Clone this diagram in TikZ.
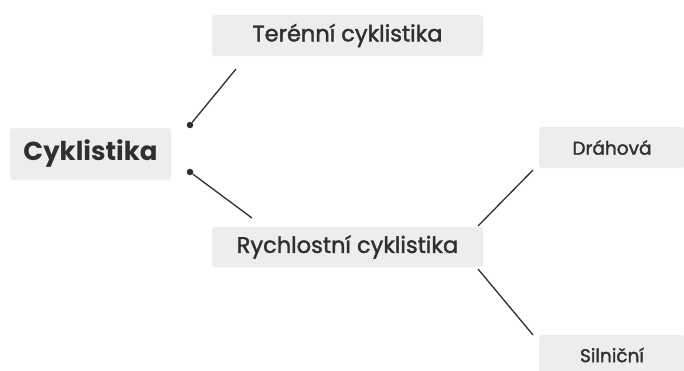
\documentclass[tikz,border=0pt]{standalone}
\usepackage{fontspec}
\setmainfont{Poppins}
\newfontfamily\medfont{Poppins}[FakeBold=1.6]
\usepackage{tikz}
\usetikzlibrary{positioning}
\definecolor{boxgray}{HTML}{EEEDEC}
\definecolor{ink}{HTML}{2F2F2F}
\tikzstyle{box}=[fill=boxgray, rounded corners=3pt, inner sep=0pt, text=ink]
\tikzstyle{dotend}=[circle, fill=ink, inner sep=0pt, minimum size=6.5pt]
\tikzstyle{link}=[draw=ink, line width=1.3pt]

\begin{document}
\begin{tikzpicture}
[x=1pt, y=-1pt]
\clip (0,0) rectangle (684,370);
\fill[white] (0,0) rectangle (684,370);
\node[box, minimum width=161pt, minimum height=52pt, font=\fontsize{26}{30}\selectfont\bfseries] (cyk) at (90.5,154) {Cyklistika};
\node[box, minimum width=271pt, minimum height=41pt, font=\fontsize{22.5}{27}\medfont] (ter) at (347.5,35.5) {Terénní cyklistika};
\node[box, minimum width=271pt, minimum height=40pt, font=\fontsize{22.5}{27}\medfont] (rych) at (347.5,247) {Rychlostní cyklistika};
\node[box, minimum width=146pt, minimum height=41pt, font=\fontsize{18.5}{22}\medfont] (drah) at (612,147.5) {Dráhová};
\node[box, minimum width=146pt, minimum height=40pt, font=\fontsize{18.5}{22}\medfont] (siln) at (612,355) {Silniční};
% line ends
\node[dotend] (d1) at (190,125) {};
\node[dotend] (d2) at (190,172) {};
\coordinate (t1) at (236,69);
\coordinate (t2) at (252,218);
\coordinate (r1) at (478,226);
\coordinate (r2) at (478,269);
\coordinate (s1) at (533,170);
\coordinate (s2) at (533,335);
\path[link]
   (d1) -- (t1)
   (d2) -- (t2)
   (r1) -- (s1)
   (r2) -- (s2);
\end{tikzpicture}
\end{document}
